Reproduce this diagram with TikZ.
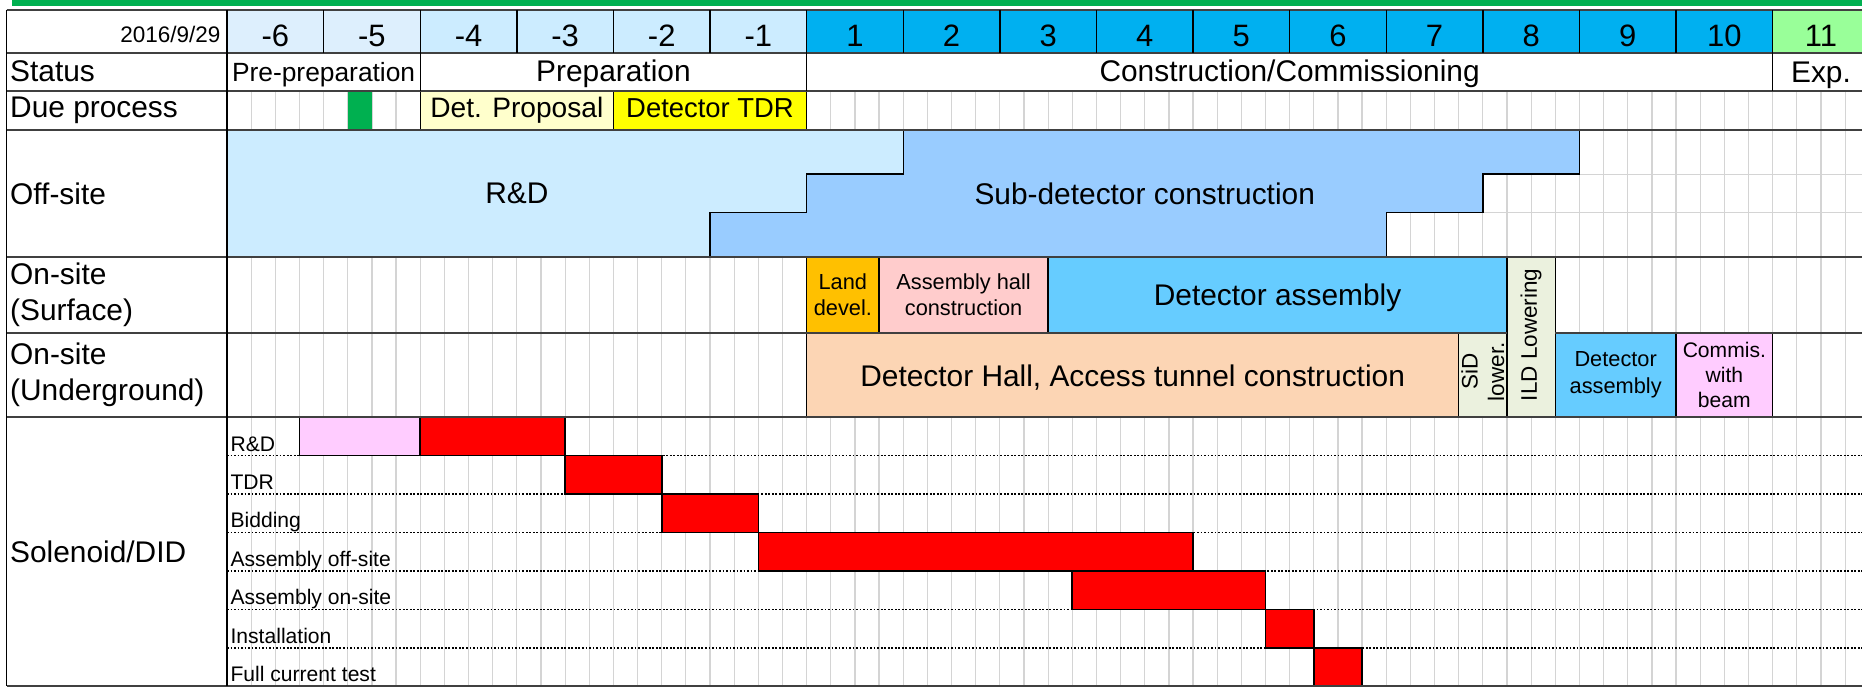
\documentclass[tikz,border=0pt]{standalone}
\usepackage{fontspec}
\setmainfont{Liberation Sans}
\usetikzlibrary{positioning}

% sheet colours
\definecolor{topgreen}{HTML}{00B050}
\definecolor{preyear}{HTML}{DDEFFD}
\definecolor{prepyear}{HTML}{CCECFF}
\definecolor{conyear}{HTML}{00B0F0}
\definecolor{expyear}{HTML}{99FF99}
\definecolor{proposal}{HTML}{FFFFCC}
\definecolor{tdr}{HTML}{FFFF00}
\definecolor{rnd}{HTML}{CCECFF}
\definecolor{subdet}{HTML}{99CCFF}
\definecolor{land}{HTML}{FFC000}
\definecolor{hall}{HTML}{FFCCCC}
\definecolor{assembly}{HTML}{66CCFF}
\definecolor{lowering}{HTML}{EBF1DE}
\definecolor{tunnel}{HTML}{FCD5B4}
\definecolor{commis}{HTML}{FFCCFF}
\definecolor{gridgrey}{HTML}{D4D4D4}
\definecolor{rulegrey}{HTML}{404040}

\tikzset{
  cellbox/.style={draw=black, line width=0.4pt},
  redbar/.style={draw=black, line width=0.45pt, fill=red},
  quarter/.style={draw=gridgrey, line width=0.35pt},
  rowrule/.style={draw=rulegrey, line width=0.6pt},
  bigtext/.style={font=\fontsize{8.5}{10.2}\selectfont, inner sep=0pt},
  smalltext/.style={font=\fontsize{6.2}{7.6}\selectfont, inner sep=0pt, align=center},
  tasktext/.style={font=\fontsize{6}{7}\selectfont, inner sep=0pt, anchor=base west},
  yeartext/.style={font=\fontsize{8.8}{10}\selectfont, inner sep=0pt, anchor=base},
}

\begin{document}
\begin{tikzpicture}[x=0.966cm, y=-0.01cm]

\clip (-2.3499,0) rectangle (16.925,688);

% green strip on top
\fill[topgreen] (-2.226,0) rectangle (16.925,5.7);

% year header
\foreach \l/\c [count=\i from 0] in {-6/preyear,-5/preyear,-4/prepyear,-3/prepyear,-2/prepyear,-1/prepyear,1/conyear,2/conyear,3/conyear,4/conyear,5/conyear,6/conyear,7/conyear,8/conyear,9/conyear,10/conyear,11/expyear}
{
  \fill[\c] (\i,10) rectangle (\i+1,53);
  \node[yeartext] (year-\i) at (\i+0.5,47) {\l};
}

% quarter grid
\foreach \k in {1,...,67}
  \draw[quarter] (\k/4,91) -- (\k/4,686.7);
\draw[quarter] (0,174.3) -- (17,174.3) (0,212.7) -- (17,212.7);

% due process
\fill[topgreen] (1.25,91) rectangle (1.5,130.5);
\draw[cellbox, fill=proposal] (2,91) rectangle (4,130.5);
\draw[cellbox, fill=tdr] (4,91) rectangle (6,130.5);

% off-site
\fill[rnd] (0,130.5) rectangle (7,257);
\draw[cellbox, fill=subdet] (7,130.5) -| (14,174.3) -| (13,212.7) -| (12,257)
  -| (5,212.7) -| (6,174.3) -| (7,130.5) -- cycle;

% on-site, surface
\draw[cellbox, fill=land] (6,257) rectangle (6.75,333.3);
\draw[cellbox, fill=hall] (6.75,257) rectangle (8.5,333.3);
\draw[cellbox, fill=assembly] (8.5,257) rectangle (13.25,333.3);
\draw[cellbox, fill=lowering] (13.25,257) rectangle (13.75,417.3);

% on-site, underground
\draw[cellbox, fill=tunnel] (6,333.3) rectangle (12.75,417.3);
\draw[cellbox, fill=lowering] (12.75,333.3) rectangle (13.25,417.3);
\draw[cellbox, fill=assembly] (13.75,333.3) rectangle (15,417.3);
\draw[cellbox, fill=commis] (15,333.3) rectangle (16,417.3);

% solenoid rows
\foreach \r in {1,...,6}
  \draw[black, line width=0.5pt, dash pattern=on 0.5pt off 0.5pt]
    (0,{417.3+\r*38.49}) -- (17,{417.3+\r*38.49});
\draw[cellbox, fill=commis] (0.75,417.3) rectangle (2,455.79);
\foreach \a/\b [count=\r from 0] in {2/3.5,3.5/4.5,4.5/5.5,5.5/10,8.75/10.75,10.75/11.25,11.25/11.75}
  \draw[redbar] (\a,{417.3+\r*38.49}) rectangle (\b,{417.3+(\r+1)*38.49});

% row rules
\foreach \y in {10,53,91,130.5,257,417.3,686.7}
  \draw[rowrule] (-2.2826,\y) -- (17,\y);
\draw[rowrule] (-2.2826,333.3) -- (13.25,333.3) (13.75,333.3) -- (17,333.3);
\draw[cellbox] (-2.2826,10) -- (-2.2826,686.7) (0,10) -- (0,686.7);
\foreach \i in {1,...,16}
  \draw[cellbox] (\i,10) -- (\i,53);
\foreach \i in {2,6,16}
  \draw[cellbox] (\i,53) -- (\i,91);

% row labels
\node[font=\fontsize{6.4}{7}\selectfont, inner sep=0pt, anchor=base east] (date) at (-0.06,43) {2016/9/29};
\node[bigtext, anchor=base west] (lab-status) at (-2.2516,82) {Status};
\node[bigtext, anchor=base west] (lab-due) at (-2.2516,117.5) {Due process};
\node[bigtext, anchor=west] (lab-off) at (-2.2516,193.7) {Off-site};
\node[bigtext, anchor=west, align=left] (lab-surf) at (-2.2516,295) {On-site\\(Surface)};
\node[bigtext, anchor=west, align=left] (lab-under) at (-2.2516,375.3) {On-site\\(Underground)};
\node[bigtext, anchor=west] (lab-sol) at (-2.2516,552) {Solenoid/DID};

% status row
\node[bigtext, font=\fontsize{7.5}{9}\selectfont, anchor=base] (stat-pre) at (1,82) {Pre-preparation};
\node[bigtext, anchor=base] (stat-prep) at (4,82) {Preparation};
\node[bigtext, anchor=base] (stat-con) at (11,82) {Construction/Commissioning};
\node[bigtext, anchor=base] (stat-exp) at (16.5,83) {Exp.};

% due process texts
\node[bigtext, font=\fontsize{8}{9}\selectfont, anchor=base] (due-prop) at (3,118) {Det. Proposal};
\node[bigtext, font=\fontsize{7.8}{9}\selectfont, anchor=base] (due-tdr) at (5,118) {Detector TDR};

% off-site texts
\node[bigtext] (off-rnd) at (3,193.7) {R\&D};
\node[bigtext] (off-sub) at (9.5,193.7) {Sub-detector construction};

% on-site texts
\node[smalltext] (surf-land) at (6.375,295) {Land\\devel.};
\node[smalltext] (surf-hall) at (7.625,295) {Assembly hall\\construction};
\node[bigtext, anchor=base] (surf-asm) at (10.875,305.5) {Detector assembly};
\node[smalltext, font=\fontsize{6.4}{7.6}\selectfont, rotate=90] (ild-low) at (13.5,335) {ILD Lowering};
\node[bigtext, anchor=base] (under-hall) at (9.375,386.5) {Detector Hall, Access tunnel construction};
\node[smalltext, font=\fontsize{6.4}{7.6}\selectfont, rotate=90] (sid-low) at (13,372) {SiD\\lower.};
\node[smalltext] (under-asm) at (14.375,375.3) {Detector\\assembly};
\node[smalltext, font=\fontsize{6}{7.1}\selectfont] (under-com) at (15.5,375.3) {Commis.\\with\\beam};

% solenoid task names
\foreach \t [count=\r] in {R\&D,TDR,Bidding,Assembly off-site,Assembly on-site,Installation,Full current test}
  \node[tasktext] (task-\r) at (0.03,{417.3+\r*38.49-4.5}) {\t};

\end{tikzpicture}
\end{document}
